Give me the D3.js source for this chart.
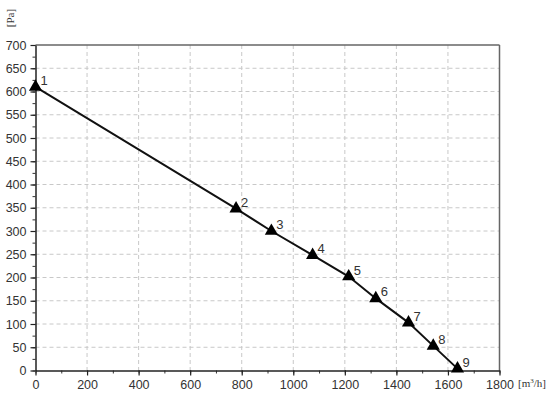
<!DOCTYPE html>
<html>
<head>
<meta charset="utf-8">
<script src="https://cdn.jsdelivr.net/npm/d3@7"></script>
<style>
html,body{margin:0;padding:0;background:#fff;}
svg{display:block;}
</style>
</head>
<body>
<svg id="chart" width="550" height="400"></svg>
<script>
const flowValues = [0, 778, 915, 1075, 1215, 1320, 1447, 1543, 1637];
const pressureValues = [610, 348, 300, 248, 202, 155, 103, 53, 4];
const pointLabels = ["1","2","3","4","5","6","7","8","9"];
const xTicks = [0, 200, 400, 600, 800, 1000, 1200, 1400, 1600, 1800];
const yTicks = [0, 50, 100, 150, 200, 250, 300, 350, 400, 450, 500, 550, 600, 650, 700];
const xMinorTicks = d3.range(0, 1801, 100);
const yMinorTicks = d3.range(0, 701, 25);

(function () {
const svg = d3.select("#chart");
const mL = 35.5, mR = 499.5, mT = 45, mB = 370.5;
const x = d3.scaleLinear().domain([0, 1800]).range([mL, mR]);
const y = d3.scaleLinear().domain([0, 700]).range([mB, mT]);

// grid
const grid = svg.append("g");
grid.selectAll(".vg").data(xTicks.slice(1, -1)).enter().append("line")
  .attr("x1", d => x(d)).attr("x2", d => x(d)).attr("y1", mT).attr("y2", mB)
  .attr("stroke", "#c8c8c8").attr("stroke-width", 1).attr("stroke-dasharray", "4,3");
grid.selectAll(".hg").data(yTicks.slice(1, -1)).enter().append("line")
  .attr("y1", d => y(d)).attr("y2", d => y(d)).attr("x1", mL).attr("x2", mR)
  .attr("stroke", "#c8c8c8").attr("stroke-width", 1).attr("stroke-dasharray", "4,3");

// frame top/right
svg.append("line").attr("x1", mL).attr("x2", mR).attr("y1", mT).attr("y2", mT)
  .attr("stroke", "#666").attr("stroke-width", 1.5);
svg.append("line").attr("x1", mR).attr("x2", mR).attr("y1", mT).attr("y2", mB)
  .attr("stroke", "#666").attr("stroke-width", 1.5);

// minor ticks
const axisFont = "Arial, 'Liberation Sans', sans-serif";
svg.append("g").attr("transform", `translate(0,${mB})`)
  .call(d3.axisBottom(x).tickValues(xMinorTicks).tickSize(3).tickFormat(""))
  .call(g => g.select(".domain").remove())
  .call(g => g.selectAll("line").attr("stroke", "#333"));
svg.append("g").attr("transform", `translate(${mL},0)`)
  .call(d3.axisLeft(y).tickValues(yMinorTicks).tickSize(3).tickFormat(""))
  .call(g => g.select(".domain").remove())
  .call(g => g.selectAll("line").attr("stroke", "#333"));

// major axes
const xAxis = svg.append("g").attr("transform", `translate(0,${mB})`)
  .call(d3.axisBottom(x).tickValues(xTicks).tickFormat(d3.format("d")).tickSize(5).tickSizeOuter(0).tickPadding(5));
xAxis.select(".domain").attr("stroke", "#222").attr("stroke-width", 1.5);
xAxis.selectAll("line").attr("stroke", "#222").attr("stroke-width", 1.2);
xAxis.selectAll("text").attr("font-family", axisFont).attr("font-size", 12.5).attr("fill", "#333");

const yAxis = svg.append("g").attr("transform", `translate(${mL},0)`)
  .call(d3.axisLeft(y).tickValues(yTicks).tickFormat(d3.format("d")).tickSize(5).tickSizeOuter(0).tickPadding(4));
yAxis.select(".domain").attr("stroke", "#222").attr("stroke-width", 1.5);
yAxis.selectAll("line").attr("stroke", "#222").attr("stroke-width", 1.2);
yAxis.selectAll("text").attr("font-family", axisFont).attr("font-size", 12.5).attr("fill", "#333");

// units
svg.append("text").attr("transform", `translate(14,18) rotate(-90)`)
  .attr("text-anchor", "middle").attr("font-family", "'Liberation Serif', 'Times New Roman', serif")
  .attr("font-size", 11).attr("fill", "#333").text("[Pa]");
const ux = svg.append("text").attr("x", 518).attr("y", 387)
  .attr("font-family", "'Liberation Serif', 'Times New Roman', serif")
  .attr("font-size", 11).attr("fill", "#333");
ux.append("tspan").text("[m");
ux.append("tspan").attr("dy", -4).attr("font-size", 7).text("3");
ux.append("tspan").attr("dy", 4).text("/h]");

// line
const pts = flowValues.map((v, i) => ({ fx: v, p: pressureValues[i], label: pointLabels[i] }));
svg.append("path").datum(pts)
  .attr("d", d3.line().x(d => x(d.fx)).y(d => y(d.p)))
  .attr("fill", "none").attr("stroke", "#111").attr("stroke-width", 2);

// markers
const tri = d3.symbol().type(d3.symbolTriangle).size(75);
svg.selectAll(".mk").data(pts).enter().append("path")
  .attr("transform", d => `translate(${x(d.fx)},${y(d.p)})`)
  .attr("d", tri).attr("fill", "#000");

// labels
svg.selectAll(".lb").data(pts).enter().append("text")
  .attr("x", d => x(d.fx) + 5).attr("y", d => y(d.p) - 2)
  .attr("font-family", axisFont).attr("font-size", 13).attr("fill", "#333")
  .text(d => d.label);
})();
</script>
</body>
</html>
